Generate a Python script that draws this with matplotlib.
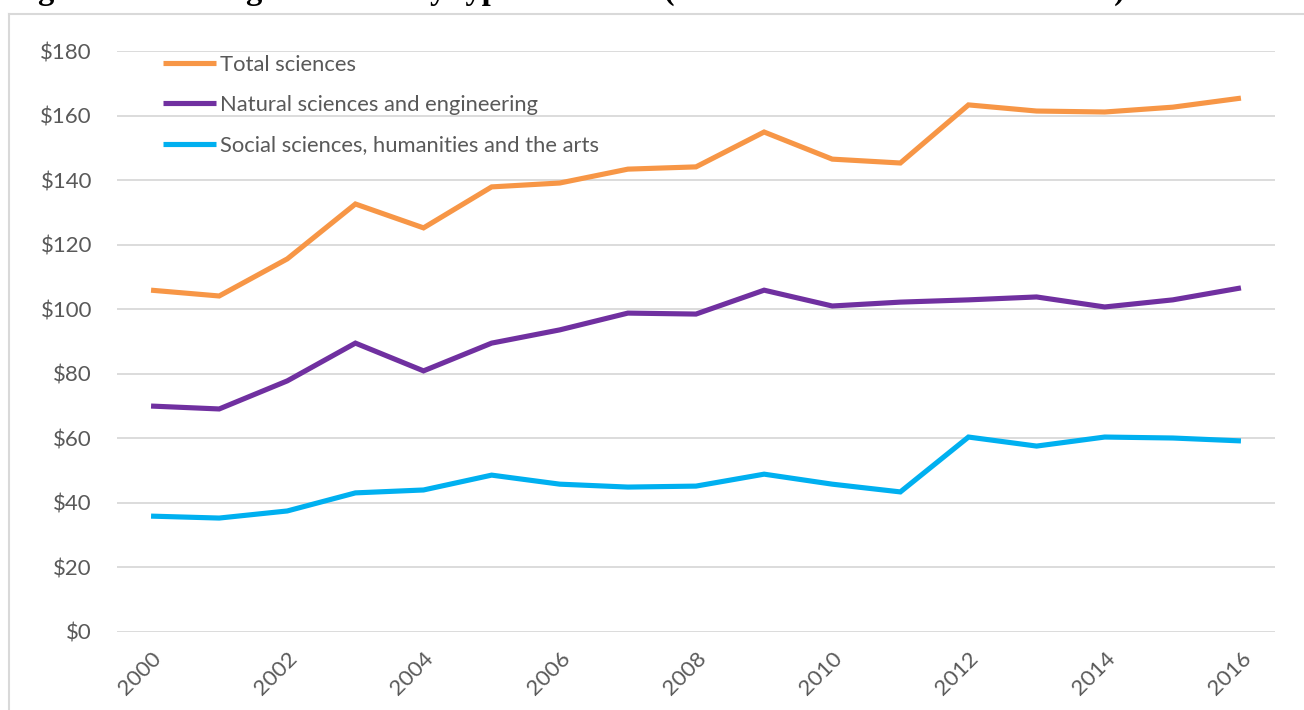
import matplotlib
matplotlib.use("Agg")
import matplotlib.pyplot as plt
from matplotlib.lines import Line2D

years = list(range(2000, 2017))
total = [105.9, 104.1, 115.6, 132.6, 125.2, 137.9, 139.1, 143.4, 144.1, 154.9,
         146.5, 145.3, 163.3, 161.4, 161.1, 162.6, 165.4]
natural = [70.0, 69.1, 77.8, 89.5, 80.9, 89.5, 93.6, 98.8, 98.5, 105.9,
           101.0, 102.2, 102.9, 103.8, 100.7, 102.9, 106.6]
social = [35.9, 35.3, 37.5, 43.1, 44.0, 48.6, 45.8, 44.9, 45.2, 48.9,
          45.8, 43.4, 60.4, 57.6, 60.4, 60.1, 59.2]
series_names = ["Total sciences", "Natural sciences and engineering",
                "Social sciences, humanities and the arts"]
y_ticks = [0, 20, 40, 60, 80, 100, 120, 140, 160, 180]
x_ticks = list(range(2000, 2017, 2))
title = "Figure 1: Funding of science by type of science (billions of constant 2016 dollars)"

colors = ["#F79646", "#7030A0", "#00B0F0"]
grey = "#595959"
grid_c = "#D9D9D9"

plt.rcParams['font.family'] = ['Lato', 'DejaVu Sans']

fig = plt.figure(figsize=(13.04, 7.10), dpi=100)
ax = fig.add_axes([117/1304, 1-632/710, (1275-117)/1304, (632-51)/710])

for vals, name, c in zip([total, natural, social], series_names, colors):
    ax.plot(years, vals, color=c, lw=3.7, label=name, solid_capstyle='butt',
            solid_joinstyle='miter')

ax.set_xlim(1999.5, 2016.5)
ax.set_ylim(0, 180)
ax.set_yticks(y_ticks)
ax.set_yticklabels([f"${v}" for v in y_ticks])
ax.set_xticks(x_ticks)
ax.set_xticklabels([str(x) for x in x_ticks], rotation=45, ha='right',
                   rotation_mode='anchor')
ax.tick_params(axis='both', length=0, labelsize=16, colors=grey)
ax.tick_params(axis='y', pad=18)
ax.tick_params(axis='x', pad=12)
ax.grid(axis='y', color=grid_c, lw=1.3)
ax.set_axisbelow(True)
for s in ax.spines.values():
    s.set_visible(False)

leg = ax.legend(loc='upper left', bbox_to_anchor=(0.032, 1.009), frameon=False,
                fontsize=15.8, handlelength=2.4, handletextpad=0.2,
                labelspacing=0.93, borderaxespad=0)
for t in leg.get_texts():
    t.set_color(grey)

# chart-area border (left and top edges visible)
fig.add_artist(Line2D([9/1304, 9/1304], [0, 1-14/710], transform=fig.transFigure,
                      color=grid_c, lw=1.5))
fig.add_artist(Line2D([9/1304, 1], [1-14/710, 1-14/710], transform=fig.transFigure,
                      color=grid_c, lw=1.5))

# page title above the chart, mostly cut off at the top edge (as in the reference)
fig.text(9/1304, 1 - 6/710, title, fontsize=23.5, fontweight='bold',
         family=['Liberation Serif'], va='bottom', ha='left', color='black')

fig.savefig("out.png", dpi=100)
